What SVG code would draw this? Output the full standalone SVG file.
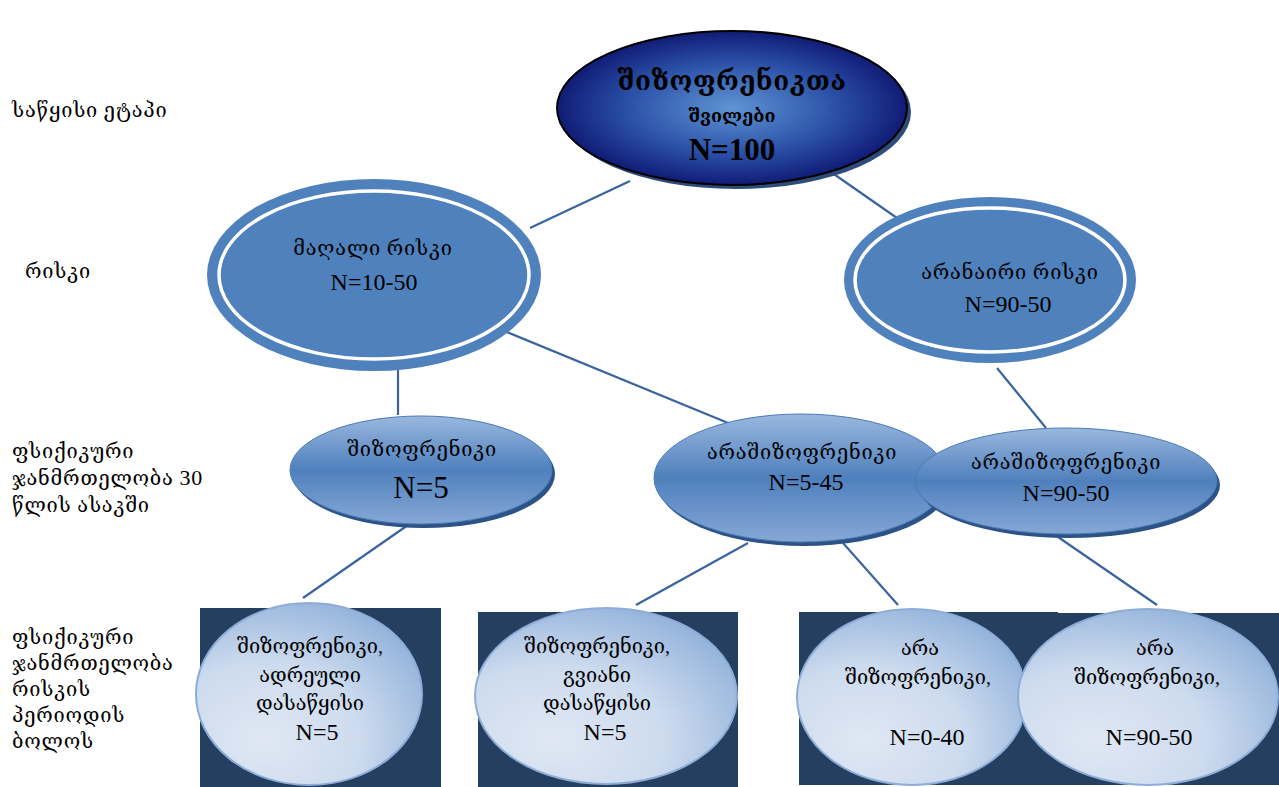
<svg xmlns="http://www.w3.org/2000/svg" width="1279" height="787" viewBox="0 0 1279 787">
  <style>
    .lbl { font-family: "Liberation Serif", "DejaVu Serif", serif; font-size: 20px; fill: #000; letter-spacing: 0.8px; }
    .t { font-family: "Liberation Serif", "DejaVu Serif", serif; font-size: 20px; fill: #000; text-anchor: middle; }
    .n { font-family: "Liberation Serif", "Times New Roman", serif; font-size: 24px; fill: #000; text-anchor: middle; }
    .conn line { stroke: #3a64a0; stroke-width: 2.2; }
    .ring { fill: #4f81bd; }
    .ringIn { fill: #4f81bd; stroke: #fff; stroke-width: 3.5; }
    .mid { fill: url(#midGrad); stroke: #4a7bb8; stroke-width: 1; }
    .midShadow { fill: #2c5286; }
    .leaf { fill: url(#leafGrad); stroke: #8dadd8; stroke-width: 2; }
    .panel { fill: #243f60; }
  </style>
  <defs>
    <radialGradient id="topGrad" cx="50%" cy="50%" r="55%">
      <stop offset="0" stop-color="#5f95d4"/>
      <stop offset="0.55" stop-color="#2a4fa6"/>
      <stop offset="1" stop-color="#0a0f6a"/>
    </radialGradient>
    <linearGradient id="midGrad" x1="0" y1="0" x2="0" y2="1">
      <stop offset="0" stop-color="#9ab8de"/>
      <stop offset="0.5" stop-color="#4f80bd"/>
      <stop offset="1" stop-color="#86a8d6"/>
    </linearGradient>
    <radialGradient id="leafGrad" cx="30%" cy="75%" r="85%">
      <stop offset="0" stop-color="#dfe8f4"/>
      <stop offset="0.5" stop-color="#cddbee"/>
      <stop offset="1" stop-color="#8fb0da"/>
    </radialGradient>
  </defs>

  <!-- row captions -->
  <g id="row-labels">
    <text class="lbl" x="12" y="117">საწყისი ეტაპი</text>
    <text class="lbl" x="25" y="278">რისკი</text>
    <text class="lbl" x="12" y="458">ფსიქიკური</text>
    <text class="lbl" x="12" y="485">ჯანმრთელობა <tspan style="font-family:'Liberation Serif', serif;font-size:22px">30</tspan></text>
    <text class="lbl" x="12" y="512">წლის ასაკში</text>
    <text class="lbl" x="12" y="644">ფსიქიკური</text>
    <text class="lbl" x="12" y="670">ჯანმრთელობა</text>
    <text class="lbl" x="12" y="696">რისკის</text>
    <text class="lbl" x="12" y="722">პერიოდის</text>
    <text class="lbl" x="12" y="748">ბოლოს</text>
  </g>

  <!-- connectors -->
  <g class="conn" id="connectors">
    <line x1="630" y1="181" x2="530" y2="228"/>
    <line x1="828" y1="170" x2="897" y2="218"/>
    <line x1="398" y1="357" x2="398" y2="415"/>
    <line x1="497" y1="328" x2="733" y2="425"/>
    <line x1="997" y1="368" x2="1046" y2="428"/>
    <line x1="408" y1="525" x2="303" y2="598"/>
    <line x1="748" y1="543" x2="636" y2="605"/>
    <line x1="843" y1="543" x2="898" y2="605"/>
    <line x1="1058" y1="537" x2="1157" y2="605"/>
  </g>

  <!-- root -->
  <g id="root">
    <ellipse cx="736" cy="112" rx="175" ry="77" fill="#2d4c78"/>
    <ellipse cx="732" cy="108" rx="175" ry="77" fill="url(#topGrad)" stroke="#000" stroke-width="2"/>
    <text class="t" x="732" y="90" style="font-size:26px;font-weight:bold;letter-spacing:0.6px">შიზოფრენიკთა</text>
    <text class="t" x="732" y="122" style="font-size:18px;font-weight:bold">შვილები</text>
    <text class="n" x="732" y="160" style="font-size:31px;font-weight:bold">N=100</text>
  </g>

  <!-- risk level -->
  <g id="high-risk">
    <ellipse class="ring" cx="374" cy="275" rx="167" ry="96"/>
    <ellipse class="ringIn" cx="374" cy="275" rx="155" ry="84"/>
    <text class="t" x="373" y="255" style="letter-spacing:0.8px">მაღალი რისკი</text>
    <text class="n" x="374" y="290">N=10-50</text>
  </g>
  <g id="no-risk">
    <ellipse class="ring" cx="990" cy="280" rx="146" ry="83"/>
    <ellipse class="ringIn" cx="990" cy="280" rx="135" ry="72"/>
    <text class="t" x="1010" y="279" style="letter-spacing:0.8px">არანაირი რისკი</text>
    <text class="n" x="1008" y="312">N=90-50</text>
  </g>

  <!-- age 30 level -->
  <g id="schizo-30">
    <ellipse class="midShadow" cx="424" cy="474" rx="131" ry="54"/>
    <ellipse class="mid" cx="421" cy="470" rx="131" ry="54"/>
    <text class="t" x="422" y="456" style="letter-spacing:0.8px">შიზოფრენიკი</text>
    <text class="n" x="421" y="498" style="font-size:31px">N=5</text>
  </g>
  <g id="nonschizo-30-high">
    <ellipse class="midShadow" cx="804" cy="482" rx="147" ry="64"/>
    <ellipse class="mid" cx="801" cy="478" rx="147" ry="64"/>
    <text class="t" x="802" y="459" style="letter-spacing:0.8px">არაშიზოფრენიკი</text>
    <text class="n" x="806" y="490">N=5-45</text>
  </g>
  <g id="nonschizo-30-none">
    <ellipse class="midShadow" cx="1069" cy="485" rx="151" ry="53"/>
    <ellipse class="mid" cx="1066" cy="481" rx="151" ry="53"/>
    <text class="t" x="1066" y="469" style="letter-spacing:0.8px">არაშიზოფრენიკი</text>
    <text class="n" x="1066" y="501">N=90-50</text>
  </g>

  <!-- end of risk period -->
  <g id="early-onset">
    <rect class="panel" x="200" y="608" width="241" height="179"/>
    <ellipse class="leaf" cx="309" cy="694" rx="113" ry="91"/>
    <text class="t" x="310" y="653">შიზოფრენიკი,</text>
    <text class="t" x="310" y="682">ადრეული</text>
    <text class="t" x="310" y="710">დასაწყისი</text>
    <text class="n" x="317" y="740">N=5</text>
  </g>
  <g id="late-onset">
    <rect class="panel" x="478" y="612" width="260" height="175"/>
    <ellipse class="leaf" cx="606" cy="696" rx="131" ry="88"/>
    <text class="t" x="597" y="653">შიზოფრენიკი,</text>
    <text class="t" x="597" y="682">გვიანი</text>
    <text class="t" x="597" y="710">დასაწყისი</text>
    <text class="n" x="605" y="740">N=5</text>
  </g>
  <g id="nonschizo-high">
    <rect class="panel" x="799" y="612" width="259" height="173"/>
    <ellipse class="leaf" cx="912" cy="697" rx="115" ry="88"/>
    <text class="t" x="920" y="655">არა</text>
    <text class="t" x="918" y="684">შიზოფრენიკი,</text>
    <text class="n" x="927" y="745">N=0-40</text>
  </g>
  <g id="nonschizo-none">
    <rect class="panel" x="1022" y="613" width="257" height="172"/>
    <ellipse class="leaf" cx="1148" cy="697" rx="130" ry="88"/>
    <text class="t" x="1155" y="655">არა</text>
    <text class="t" x="1147" y="684">შიზოფრენიკი,</text>
    <text class="n" x="1149" y="745">N=90-50</text>
  </g>
</svg>
